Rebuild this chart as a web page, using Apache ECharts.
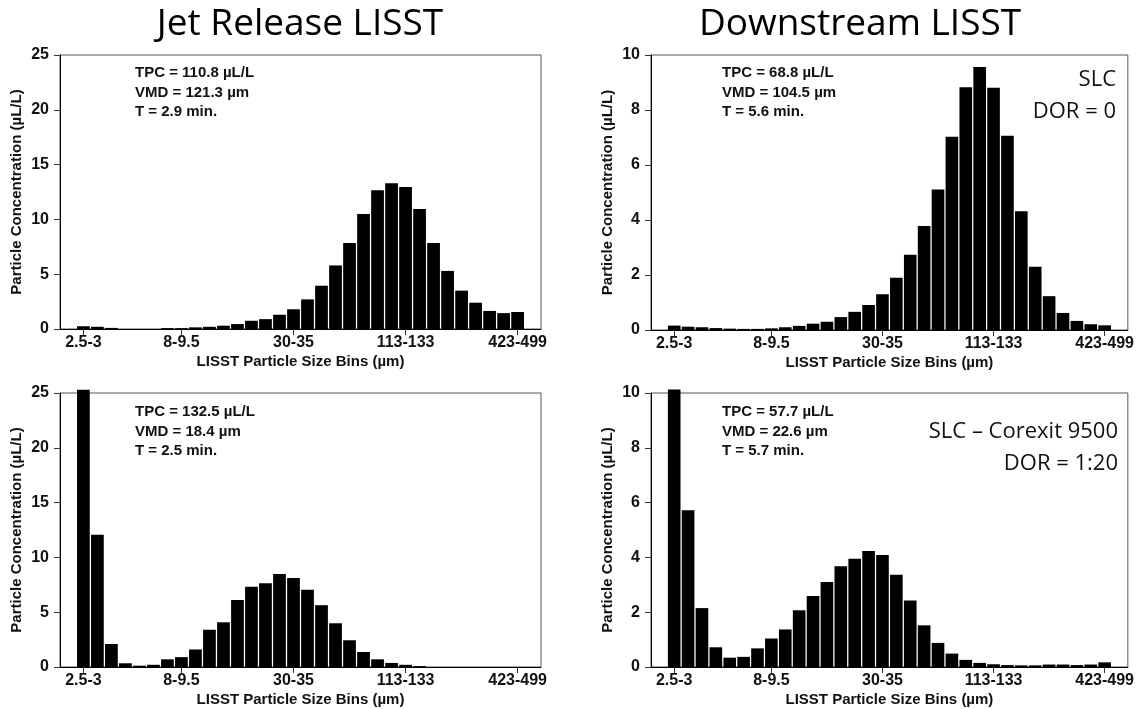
<!DOCTYPE html>
<html>
<head>
<meta charset="utf-8">
<script src="https://cdn.jsdelivr.net/npm/echarts@6/dist/echarts.min.js"></script>
<style>
html,body{margin:0;padding:0;background:#fff;}
#chart{width:1137px;height:709px;}
</style>
</head>
<body>
<div id="chart"></div>
<script>
// LISST size bins (µm)
const binLabels = ['2.5-3','3-3.5','3.5-4.1','4.1-4.9','4.9-5.7','5.7-6.8','6.8-8','8-9.5',
  '9.5-11','11-13','13-15','15-18','18-22','22-25','25-30','30-35',
  '35-42','42-49','49-58','58-68','68-81','81-95','95-113','113-133',
  '133-157','157-185','185-218','218-258','258-304','304-358','358-423','423-499'];
const labeledBins = [0, 7, 15, 23, 31];

// Particle concentration (µL/L) per bin
const jetSLC = [0.25,0.2,0.1,0,0,0,0.08,0.08,0.15,0.2,0.3,0.45,0.75,0.9,1.3,1.8,
  2.7,3.95,5.8,7.85,10.5,12.65,13.3,12.95,10.95,7.85,5.3,3.5,2.4,1.65,1.45,1.55];
const downSLC = [0.16,0.12,0.1,0.07,0.05,0.04,0.04,0.06,0.1,0.15,0.23,0.3,0.47,0.66,0.91,1.3,
  1.9,2.74,3.78,5.11,7.03,8.83,9.56,8.81,7.06,4.32,2.3,1.23,0.62,0.33,0.21,0.17];
const jetCorexit = [25.3,12.07,2.1,0.34,0.12,0.2,0.7,0.9,1.6,3.4,4.08,6.12,7.32,7.65,8.48,8.11,
  7.04,5.64,3.99,2.44,1.37,0.7,0.37,0.2,0.08,0,0,0,0,0,0,0];
const downCorexit = [10.13,5.72,2.15,0.72,0.34,0.37,0.68,1.04,1.37,2.07,2.59,3.1,3.68,3.95,4.23,4.09,
  3.37,2.43,1.52,0.88,0.49,0.26,0.15,0.1,0.07,0.06,0.06,0.09,0.09,0.07,0.09,0.17];

const panelTitles = ['Jet Release LISST', 'Downstream LISST'];
const statsText = [
  ['TPC = 110.8 µL/L', 'VMD = 121.3 µm', 'T = 2.9 min.'],
  ['TPC = 68.8 µL/L', 'VMD = 104.5 µm', 'T = 5.6 min.'],
  ['TPC = 132.5 µL/L', 'VMD = 18.4 µm', 'T = 2.5 min.'],
  ['TPC = 57.7 µL/L', 'VMD = 22.6 µm', 'T = 5.7 min.']
];
const caseLabels = [['SLC', 'DOR = 0'], ['SLC – Corexit 9500', 'DOR = 1:20']];
const yMax = [25, 10, 25, 10];
const yInterval = [5, 2, 5, 2];
const xTitle = 'LISST Particle Size Bins (µm)';
const yTitle = 'Particle Concentration (µL/L)';

const seriesData = [jetSLC, downSLC, jetCorexit, downCorexit];

const chart = echarts.init(document.getElementById('chart'));
const boldFont = "'Liberation Sans', Arial, sans-serif";
const grids = [
  {left: 60, right: 596, top: 55, bottom: 380},
  {left: 651, right: 7, top: 55, bottom: 379},
  {left: 60, right: 596, top: 393, bottom: 42},
  {left: 651, right: 7, top: 393, bottom: 42}
];

const option = {
  animation: false,
  backgroundColor: '#fff',
  grid: grids.map(g => Object.assign({show: true, borderColor: '#555', borderWidth: 1, backgroundColor: 'transparent'}, g)),
  xAxis: grids.map((g, i) => ({
    type: 'value', gridIndex: i, min: -1.67, max: 32.67,
    axisLine: {show: true, onZero: false, lineStyle: {color: '#000', width: 1}},
    splitLine: {show: false},
    axisTick: {show: true, customValues: labeledBins, length: 6, lineStyle: {color: '#333'}},
    axisLabel: {customValues: labeledBins, formatter: v => binLabels[Math.round(v)],
      fontFamily: boldFont, fontWeight: 'bold', fontSize: 16, color: '#111', margin: 6},
    name: xTitle, nameLocation: 'middle', nameGap: 25,
    nameTextStyle: {fontFamily: boldFont, fontWeight: 'bold', fontSize: 15, color: '#111'}
  })),
  yAxis: grids.map((g, i) => ({
    type: 'value', gridIndex: i, min: 0, max: yMax[i], interval: yInterval[i],
    axisLine: {show: true, onZero: false, lineStyle: {color: '#000', width: 1}},
    splitLine: {show: false},
    axisTick: {show: true, inside: false, length: 6, lineStyle: {color: '#333'}},
    axisLabel: {fontFamily: boldFont, fontWeight: 'bold', fontSize: 16, color: '#111', margin: 11},
    name: yTitle, nameLocation: 'middle', nameGap: 36,
    nameTextStyle: {fontFamily: boldFont, fontWeight: 'bold', fontSize: 15, color: '#111'}
  })),
  series: seriesData.map((arr, i) => ({
    type: 'bar', xAxisIndex: i, yAxisIndex: i, clip: false,
    barWidth: '91%',
    itemStyle: {color: '#000'},
    data: arr.map((v, k) => [k, v])
  })),
  graphic: []
};

// panel titles
const titlePos = [[300, 24], [860, 24]];
panelTitles.forEach((t, i) => {
  option.graphic.push({type: 'text', position: titlePos[i],
    style: {text: t, font: "37px 'Open Sans', sans-serif", fill: '#000',
      textAlign: 'center', textVerticalAlign: 'middle'}});
});

// stats text
const statsPos = [[135, 73], [722, 73], [135, 412], [722, 412]];
statsText.forEach((lines, i) => {
  lines.forEach((t, j) => {
    option.graphic.push({type: 'text', position: [statsPos[i][0], statsPos[i][1] + j * 19.5],
      style: {text: t, font: "bold 15px 'Liberation Sans', Arial, sans-serif", fill: '#111',
        textAlign: 'left', textVerticalAlign: 'middle'}});
  });
});

// case labels
const casePos = [[1116, 80], [1118, 432]];
caseLabels.forEach((lines, i) => {
  lines.forEach((t, j) => {
    option.graphic.push({type: 'text', position: [casePos[i][0], casePos[i][1] + j * 31.5],
      style: {text: t, font: "22px 'Open Sans', sans-serif", fill: '#111',
        textAlign: 'right', textVerticalAlign: 'middle'}});
  });
});

chart.setOption(option);
</script>
</body>
</html>
